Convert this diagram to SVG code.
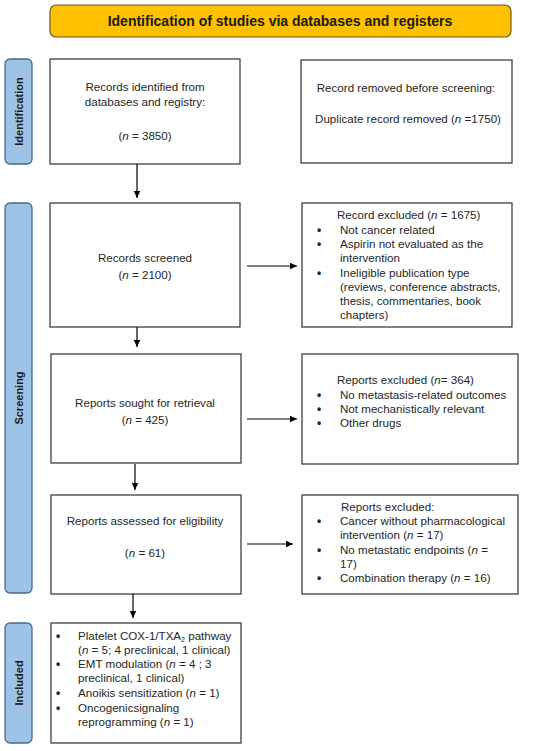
<svg xmlns="http://www.w3.org/2000/svg" width="550" height="751" viewBox="0 0 550 751">
<style>
text{font-family:"Liberation Sans",Arial,sans-serif;font-size:11.6px;fill:#262626}
.c{text-anchor:middle}
.hdr{font-size:14px;font-weight:bold;fill:#1a1a1a}
.side{font-size:11px;font-weight:bold;fill:#1a1a1a;text-anchor:middle}
.bul{font-size:12px;font-weight:bold}
.box{fill:#fff;stroke:#404040;stroke-width:1.3}
.lab{fill:#9dc3e6;stroke:#4a6a8a;stroke-width:1.3}
.conn line{stroke:#000;stroke-width:1.2}
</style>
<defs>
<marker id="ah" markerWidth="8" markerHeight="8" refX="7" refY="4" orient="auto" markerUnits="userSpaceOnUse">
<path d="M0,0.8 L7,4 L0,7.2 Z" fill="#000"/>
</marker>
</defs>
<rect width="550" height="751" fill="#fff"/>
<g id="header">
<rect x="50" y="5" width="461" height="32" rx="6" fill="#ffc000" stroke="#6b5a1e" stroke-width="1.2"/>
<text class="hdr c" x="280" y="25.5">Identification of studies via databases and registers</text>
</g>
<g id="lab-identification">
<rect class="lab" x="5" y="59" width="27" height="105" rx="5"/>
<text class="side" transform="translate(22.5,111.5) rotate(-90)">Identification</text>
</g>
<g id="lab-screening">
<rect class="lab" x="5" y="203" width="27" height="390" rx="5"/>
<text class="side" transform="translate(22.5,398) rotate(-90)">Screening</text>
</g>
<g id="lab-included">
<rect class="lab" x="5" y="623" width="27" height="120" rx="5"/>
<text class="side" transform="translate(22.5,683) rotate(-90)">Included</text>
</g>
<g id="records-identified">
<rect class="box" x="50" y="59" width="190" height="105"/>
<text class="c" x="145" y="91">Records identified from</text>
<text class="c" x="145" y="106">databases and registry:</text>
<text class="c" x="145" y="140">(<tspan font-style="italic">n</tspan> = 3850)</text>
</g>
<g id="records-removed">
<rect class="box" x="301" y="60" width="211" height="103"/>
<text class="c" x="406" y="92">Record removed before screening:</text>
<text class="c" x="408" y="123">Duplicate record removed (<tspan font-style="italic">n</tspan> =1750)</text>
</g>
<g id="records-screened">
<rect class="box" x="50" y="203" width="190" height="124"/>
<text class="c" x="145" y="262">Records screened</text>
<text class="c" x="145" y="279">(<tspan font-style="italic">n</tspan> = 2100)</text>
</g>
<g id="records-excluded">
<rect class="box" x="302" y="203" width="210" height="124"/>
<text x="337" y="219">Record excluded (<tspan font-style="italic">n</tspan> = 1675)</text>
<text class="bul" x="317" y="234">•</text><text x="340" y="234">Not cancer related</text>
<text class="bul" x="317" y="248">•</text><text x="340" y="248">Aspirin not evaluated as the</text>
<text x="340" y="262">intervention</text>
<text class="bul" x="317" y="277">•</text><text x="340" y="277">Ineligible publication type</text>
<text x="340" y="291">(reviews, conference abstracts,</text>
<text x="340" y="305">thesis, commentaries, book</text>
<text x="340" y="319">chapters)</text>
</g>
<g id="reports-sought">
<rect class="box" x="51" y="354" width="190" height="109"/>
<text class="c" x="145" y="407">Reports sought for retrieval</text>
<text class="c" x="145" y="424">(<tspan font-style="italic">n</tspan> = 425)</text>
</g>
<g id="reports-excluded-1">
<rect class="box" x="302" y="354" width="216" height="110"/>
<text x="337" y="384">Reports excluded (<tspan font-style="italic">n</tspan>= 364)</text>
<text class="bul" x="317" y="399">•</text><text x="340" y="399">No metastasis-related outcomes</text>
<text class="bul" x="317" y="413">•</text><text x="340" y="413">Not mechanistically relevant</text>
<text class="bul" x="317" y="427">•</text><text x="340" y="427">Other drugs</text>
</g>
<g id="reports-assessed">
<rect class="box" x="51" y="495" width="190" height="99"/>
<text class="c" x="145" y="525">Reports assessed for eligibility</text>
<text class="c" x="145" y="557">(<tspan font-style="italic">n</tspan> = 61)</text>
</g>
<g id="reports-excluded-2">
<rect class="box" x="302" y="495" width="216" height="99"/>
<text x="341" y="511">Reports excluded:</text>
<text class="bul" x="317" y="525">•</text><text x="340" y="525">Cancer without pharmacological</text>
<text x="340" y="539">intervention (<tspan font-style="italic">n</tspan> = 17)</text>
<text class="bul" x="317" y="554">•</text><text x="340" y="554">No metastatic endpoints (<tspan font-style="italic">n</tspan> =</text>
<text x="340" y="568">17)</text>
<text class="bul" x="317" y="582">•</text><text x="340" y="582">Combination therapy (<tspan font-style="italic">n</tspan> = 16)</text>
</g>
<g id="included">
<rect class="box" x="51" y="623" width="190" height="120"/>
<text class="bul" x="56" y="640">•</text><text x="78" y="640">Platelet COX-1/TXA<tspan font-size="7" dy="2">2</tspan><tspan dy="-2"> pathway</tspan></text>
<text x="78" y="654">(<tspan font-style="italic">n</tspan> = 5; 4 preclinical, 1 clinical)</text>
<text class="bul" x="56" y="668">•</text><text x="78" y="668">EMT modulation (<tspan font-style="italic">n</tspan> = 4 ; 3</text>
<text x="78" y="682">preclinical, 1 clinical)</text>
<text class="bul" x="56" y="697">•</text><text x="78" y="697">Anoikis sensitization (<tspan font-style="italic">n</tspan> = 1)</text>
<text class="bul" x="56" y="712">•</text><text x="78" y="712">Oncogenicsignaling</text>
<text x="78" y="726">reprogramming (<tspan font-style="italic">n</tspan> = 1)</text>
</g>
<g id="connectors" class="conn">
<line x1="137" y1="164" x2="137" y2="198" marker-end="url(#ah)"/>
<line x1="137" y1="327" x2="137" y2="347" marker-end="url(#ah)"/>
<line x1="135" y1="464" x2="135" y2="490" marker-end="url(#ah)"/>
<line x1="133" y1="594" x2="133" y2="618" marker-end="url(#ah)"/>
<line x1="247" y1="266" x2="297" y2="266" marker-end="url(#ah)"/>
<line x1="247" y1="419" x2="297" y2="419" marker-end="url(#ah)"/>
<line x1="247" y1="544" x2="293" y2="544" marker-end="url(#ah)"/>
</g>
</svg>
